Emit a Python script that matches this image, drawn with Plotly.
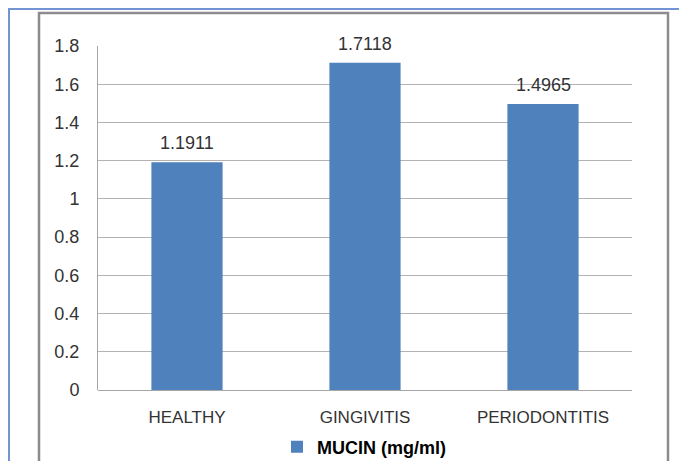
import plotly.graph_objects as go

categories = ["HEALTHY", "GINGIVITIS", "PERIODONTITIS"]
mucin_values = [1.1911, 1.7118, 1.4965]
value_labels = ["1.1911", "1.7118", "1.4965"]
y_ticks = [0, 0.2, 0.4, 0.6, 0.8, 1, 1.2, 1.4, 1.6, 1.8]
y_tick_labels = ["0", "0.2", "0.4", "0.6", "0.8", "1", "1.2", "1.4", "1.6", "1.8"]
series_name = "<b>MUCIN (mg/ml)</b>"

# page body has an 8px margin; work in figure coordinates
W, H = 679, 453
L, R, T, B = 90, 624, 38, 382
FONT = "Liberation Sans, Arial, sans-serif"
TXT = "#333333"

def px(x):
    return (x - L) / (R - L)

def py(y):
    return (B - y) / (B - T)

fig = go.Figure()
fig.add_trace(go.Bar(
    x=categories, y=mucin_values, name=series_name,
    marker=dict(color="#4f81bd", line=dict(width=0)),
    showlegend=True,
))

annotations = [
    dict(x=c, y=v, xref="x", yref="y", text=t, showarrow=False,
         yanchor="bottom", yshift=7, font=dict(family=FONT, size=18, color=TXT))
    for c, v, t in zip(categories, mucin_values, value_labels)
]

shapes = [
    # outer blue frame
    dict(type="line", xref="paper", yref="paper", x0=px(0), x1=px(700), y0=py(1), y1=py(1),
         line=dict(color="#7393d3", width=2)),
    dict(type="line", xref="paper", yref="paper", x0=px(1), x1=px(1), y0=py(0), y1=py(470),
         line=dict(color="#7393d3", width=2)),
    # inner grey chart frame
    dict(type="rect", xref="paper", yref="paper", x0=px(31), x1=px(660), y0=py(5), y1=py(475),
         line=dict(color="#8c8c8c", width=2.5), fillcolor="rgba(0,0,0,0)"),
]

fig.update_layout(
    width=W, height=H,
    margin=dict(l=L, r=W - R, t=T, b=H - B, pad=0, autoexpand=False),
    paper_bgcolor="white", plot_bgcolor="white",
    bargap=0.6,
    font=dict(family=FONT, size=18, color=TXT),
    shapes=shapes,
    annotations=annotations,
    xaxis=dict(showgrid=False, showline=False, ticks="", tickfont=dict(size=17, color=TXT),
               ticklabelstandoff=15, automargin=False),
    yaxis=dict(range=[0, 1.8], tickvals=y_ticks, ticktext=y_tick_labels,
               showgrid=True, gridcolor="#b3b3b3", gridwidth=1,
               zeroline=True, zerolinecolor="#a6a6a6", zerolinewidth=1,
               showline=True, linecolor="#a6a6a6", linewidth=1,
               ticks="", tickfont=dict(size=18, color=TXT), ticklabelstandoff=14,
               automargin=False),
    legend=dict(orientation="h", x=(356 - L) / (R - L), y=py(439),
                xanchor="center", yanchor="middle",
                font=dict(size=18, color="#000000"), bgcolor="rgba(0,0,0,0)",
                itemwidth=30),
    showlegend=True,
)

fig.write_html("out.html")
